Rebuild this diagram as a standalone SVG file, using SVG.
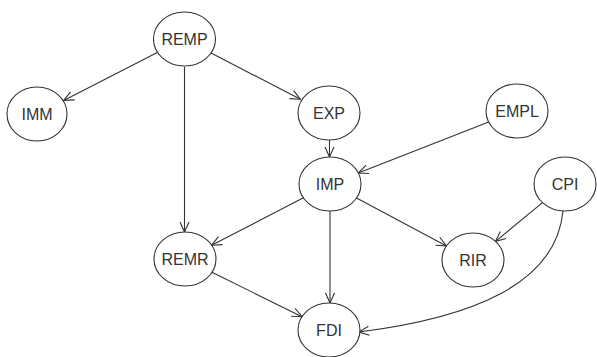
<svg xmlns="http://www.w3.org/2000/svg" width="597" height="357" viewBox="0 0 597 357">
<defs>
<marker id="arr" markerUnits="userSpaceOnUse" markerWidth="12" markerHeight="12" refX="11" refY="6" orient="auto">
<path d="M1,1.5 L11,6 L1,10.5" fill="none" stroke="#333" stroke-width="1.1"/>
</marker>
<style>
.n ellipse{fill:#fff;stroke:#333;stroke-width:1.1}
.n text{font-family:"Liberation Sans",Arial,sans-serif;font-size:16px;fill:#333;text-anchor:middle;dominant-baseline:central}
.e path{fill:none;stroke:#333;stroke-width:1.1;marker-end:url(#arr)}
</style>
</defs>
<rect width="597" height="357" fill="#fff"/>
<g id="edges" class="e">
<path d="M157.3,52.6 L63.7,100.4"/>
<path d="M210.6,52.8 L300.4,99.2"/>
<path d="M184.5,67 L184.5,232"/>
<path d="M329.5,140 L329.5,157"/>
<path d="M488.7,122 L358.3,173"/>
<path d="M303.4,197.8 L211.6,245.2"/>
<path d="M356.5,198.1 L446.5,245.9"/>
<path d="M330,211 L330,303"/>
<path d="M542.5,202.6 L495.5,241.4"/>
<path d="M212,272.3 L302,316.7"/>
<path d="M563,211 C556,285 470,318 359,332"/>
</g>
<g id="REMP" class="n"><ellipse cx="184.5" cy="39" rx="31" ry="27"/><text x="184.5" y="39">REMP</text></g>
<g id="IMM" class="n"><ellipse cx="37" cy="114" rx="30" ry="27"/><text x="37" y="114">IMM</text></g>
<g id="EXP" class="n"><ellipse cx="329" cy="113" rx="31" ry="27"/><text x="329" y="113">EXP</text></g>
<g id="EMPL" class="n"><ellipse cx="517" cy="111" rx="31" ry="27"/><text x="517" y="111">EMPL</text></g>
<g id="IMP" class="n"><ellipse cx="330" cy="184" rx="31" ry="27"/><text x="330" y="184">IMP</text></g>
<g id="CPI" class="n"><ellipse cx="565" cy="184" rx="31" ry="27"/><text x="565" y="184">CPI</text></g>
<g id="REMR" class="n"><ellipse cx="185" cy="259" rx="31" ry="27"/><text x="185" y="259">REMR</text></g>
<g id="RIR" class="n"><ellipse cx="473" cy="260" rx="31" ry="27"/><text x="473" y="260">RIR</text></g>
<g id="FDI" class="n"><ellipse cx="329" cy="330" rx="31" ry="27"/><text x="329" y="330">FDI</text></g>
</svg>
